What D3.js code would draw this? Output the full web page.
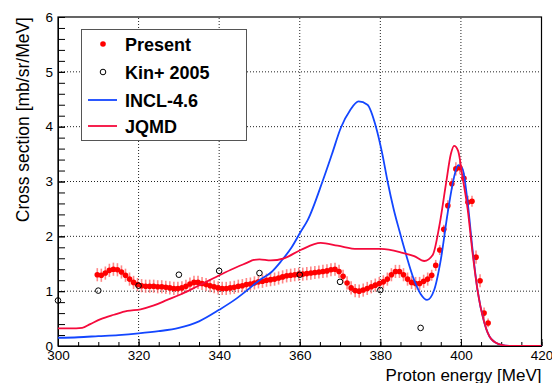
<!DOCTYPE html>
<html>
<head>
<meta charset="utf-8">
<script src="https://cdn.jsdelivr.net/npm/d3@7"></script>
<style>
  body { margin: 0; background: #fff; }
  svg { font-family: "Liberation Sans", Arial, Helvetica, sans-serif; display: block; }
</style>
</head>
<body>
<script>
// measured points (energy in MeV, cross section in mb/sr/MeV)
var presentE = [309.75, 310.75, 311.75, 312.75, 313.75, 314.75, 315.75, 316.75, 317.75, 318.75,
  319.75, 320.75, 321.75, 322.75, 323.75, 324.75, 325.75, 326.75, 327.75, 328.75,
  329.75, 330.75, 331.75, 332.75, 333.75, 334.75, 335.75, 336.75, 337.75, 338.75,
  339.75, 340.75, 341.75, 342.75, 343.75, 344.75, 345.75, 346.75, 347.75, 348.75,
  349.75, 350.75, 351.75, 352.75, 353.75, 354.75, 355.75, 356.75, 357.75, 358.75,
  359.75, 360.75, 361.75, 362.75, 363.75, 364.75, 365.75, 366.75, 367.75, 368.75,
  369.75, 370.75, 371.75, 372.75, 373.75, 374.75, 375.75, 376.75, 377.75, 378.75,
  379.75, 380.75, 381.75, 382.75, 383.75, 384.75, 385.75, 386.75, 387.75, 388.75,
  389.75, 390.75, 391.75, 392.75, 393.75, 394.75, 395.75, 396.75, 397.75, 398.75,
  399.75, 400.75, 401.75, 402.75, 403.75, 404.75, 405.75, 406.75];
var presentY = [1.30, 1.29, 1.33, 1.38, 1.40, 1.39, 1.35, 1.29, 1.22, 1.16,
  1.12, 1.10, 1.09, 1.09, 1.09, 1.08, 1.08, 1.07, 1.06, 1.05,
  1.05, 1.06, 1.09, 1.13, 1.16, 1.16, 1.14, 1.12, 1.10, 1.08,
  1.06, 1.05, 1.05, 1.06, 1.07, 1.09, 1.10, 1.12, 1.13, 1.15,
  1.17, 1.18, 1.20, 1.21, 1.22, 1.24, 1.26, 1.28, 1.29, 1.30,
  1.31, 1.31, 1.32, 1.33, 1.34, 1.35, 1.36, 1.37, 1.39, 1.40,
  1.36, 1.27, 1.15, 1.06, 1.01, 1.00, 1.02, 1.05, 1.08, 1.11,
  1.14, 1.17, 1.22, 1.30, 1.36, 1.36, 1.30, 1.22, 1.16, 1.14,
  1.14, 1.18, 1.22, 1.29, 1.47, 1.75, 2.13, 2.56, 2.96, 3.23,
  3.25, 3.06, 2.62, 2.64, 1.62, 1.19, 0.60, 0.42];
var presentErr = [0.12, 0.12, 0.12, 0.12, 0.12, 0.12, 0.12, 0.12, 0.12, 0.12,
  0.12, 0.12, 0.12, 0.12, 0.12, 0.12, 0.12, 0.12, 0.12, 0.12,
  0.12, 0.12, 0.12, 0.12, 0.12, 0.12, 0.12, 0.12, 0.12, 0.12,
  0.12, 0.12, 0.12, 0.12, 0.12, 0.12, 0.12, 0.12, 0.12, 0.12,
  0.12, 0.12, 0.12, 0.12, 0.12, 0.12, 0.12, 0.12, 0.12, 0.12,
  0.12, 0.12, 0.12, 0.12, 0.12, 0.12, 0.12, 0.12, 0.12, 0.12,
  0.12, 0.12, 0.12, 0.12, 0.12, 0.12, 0.12, 0.12, 0.12, 0.12,
  0.12, 0.12, 0.12, 0.12, 0.12, 0.12, 0.12, 0.12, 0.12, 0.12,
  0.12, 0.12, 0.12, 0.10, 0.10, 0.09, 0.08, 0.10, 0.10, 0.12,
  0.12, 0.10, 0.12, 0.10, 0.12, 0.12, 0.10, 0.08];

var kinE = [300, 310, 320, 330, 340, 350, 360, 370, 380, 390];
var kinY = [0.83, 1.01, 1.10, 1.30, 1.37, 1.33, 1.30, 1.17, 1.02, 0.33];

// model curves
var inclE = [300, 305, 310, 315, 320, 325, 330, 335, 340, 344, 347, 350, 353, 355.3, 358,
  360.2, 362, 365.6, 368, 370.2, 372.5, 374.6, 376.8, 378.9, 380.5, 381.8, 383.3, 384.7,
  386.3, 388.4, 390, 391.6, 393.4, 395, 396.7, 398.3, 399.3, 400.4, 401.7, 402.9, 404.1,
  405.8, 407.5, 410, 412, 420];
var inclY = [0.15, 0.16, 0.18, 0.20, 0.23, 0.27, 0.33, 0.45, 0.66, 0.85, 1.02, 1.20, 1.35, 1.54, 1.80,
  2.08, 2.30, 2.99, 3.50, 3.98, 4.30, 4.46, 4.40, 4.00, 3.50, 3.00, 2.50, 2.11,
  1.69, 1.20, 0.95, 0.84, 1.03, 1.57, 2.42, 3.08, 3.30, 3.23, 2.60, 1.75, 1.03,
  0.43, 0.13, 0.02, 0, 0];

var jqmdE = [300, 303, 306, 308, 310.6, 313.9, 317.2, 320.5, 323.8, 327.1, 330.4, 334.6, 338.7,
  342.9, 347, 348.6, 350, 352.8, 356.1, 360.2, 365.2, 369.4, 374.3, 380.1, 385.5, 388.4,
  390.9, 393, 394.6, 396.3, 397.5, 398.3, 399.3, 400.4, 401.7, 402.9, 404.1, 405.8, 407.5,
  410, 412, 420];
var jqmdY = [0.32, 0.32, 0.33, 0.40, 0.49, 0.57, 0.64, 0.67, 0.74, 0.84, 0.94, 1.09, 1.24,
  1.39, 1.52, 1.57, 1.58, 1.56, 1.60, 1.75, 1.88, 1.83, 1.77, 1.77, 1.70, 1.64,
  1.55, 1.66, 2.17, 2.96, 3.50, 3.65, 3.56, 3.08, 2.48, 1.69, 1.03, 0.43, 0.13,
  0.02, 0, 0];

var legendLabels = ["Present", "Kin+ 2005", "INCL-4.6", "JQMD"];

var W = 552, H = 383;
var x = d3.scaleLinear().domain([300, 420]).range([58, 541.5]);
var y = d3.scaleLinear().domain([0, 6]).range([346, 17]);

var svg = d3.select("body").append("svg")
    .attr("width", W)
    .attr("height", H);

svg.append("rect").attr("width", W).attr("height", H).attr("fill", "#fff");

svg.append("clipPath").attr("id", "frame")
  .append("rect")
    .attr("x", x(300)).attr("y", y(6))
    .attr("width", x(420) - x(300)).attr("height", y(0) - y(6));

// grid
var grid = svg.append("g").attr("class", "grid");
grid.selectAll("line.gx")
  .data([320, 340, 360, 380, 400])
  .enter().append("line")
    .attr("x1", d => x(d)).attr("x2", d => x(d))
    .attr("y1", y(0)).attr("y2", y(6))
    .attr("stroke", "#222").attr("stroke-dasharray", "1,2");
grid.selectAll("line.gy")
  .data([1, 2, 3, 4, 5])
  .enter().append("line")
    .attr("y1", d => y(d)).attr("y2", d => y(d))
    .attr("x1", x(300)).attr("x2", x(420))
    .attr("stroke", "#222").attr("stroke-dasharray", "1,2");

// axes, ticks point into the frame
svg.append("g")
  .attr("transform", "translate(0," + y(0) + ")")
  .call(d3.axisBottom(x).tickValues(d3.range(300, 421, 5)).tickSize(-4).tickFormat("").tickSizeOuter(0))
  .call(g => g.select(".domain").remove());
var xAxis = svg.append("g")
  .attr("transform", "translate(0," + y(0) + ")")
  .call(d3.axisBottom(x).tickValues([300, 320, 340, 360, 380, 400, 420]).tickSize(-7).tickPadding(4).tickSizeOuter(0));
xAxis.selectAll("text").attr("font-size", "13.5px").attr("fill", "#000").attr("font-family", null);

svg.append("g")
  .attr("transform", "translate(" + x(300) + ",0)")
  .call(d3.axisLeft(y).tickValues(d3.range(0, 6.01, 0.2)).tickSize(-7).tickFormat("").tickSizeOuter(0))
  .call(g => g.select(".domain").remove());
var yAxis = svg.append("g")
  .attr("transform", "translate(" + x(300) + ",0)")
  .call(d3.axisLeft(y).tickValues([0, 1, 2, 3, 4, 5, 6]).tickSize(-7).tickPadding(5).tickSizeOuter(0).tickFormat(d3.format("d")));
yAxis.selectAll("text").attr("font-size", "13.5px").attr("fill", "#000").attr("font-family", null);

// frame
svg.append("rect")
  .attr("x", x(300)).attr("y", y(6))
  .attr("width", x(420) - x(300)).attr("height", y(0) - y(6))
  .attr("fill", "none").attr("stroke", "#000").attr("stroke-width", 1.2);

// axis titles
svg.append("text")
  .attr("x", x(420)).attr("y", 381)
  .attr("text-anchor", "end")
  .attr("font-size", "17px")
  .text("Proton energy [MeV]");
svg.append("text")
  .attr("transform", "translate(29," + y(6) + ") rotate(-90)")
  .attr("text-anchor", "end")
  .attr("font-size", "17.5px")
  .text("Cross section [mb/sr/MeV]");

var plot = svg.append("g").attr("clip-path", "url(#frame)");

// present data: error bars then markers
var present = presentE.map((e, i) => ({e: e, v: presentY[i], err: presentErr[i]}));
plot.selectAll("line.err")
  .data(present)
  .enter().append("line")
    .attr("class", "err")
    .attr("x1", d => x(d.e)).attr("x2", d => x(d.e))
    .attr("y1", d => y(d.v - d.err)).attr("y2", d => y(d.v + d.err))
    .attr("stroke", "#ff6060").attr("stroke-width", 1.6).attr("opacity", 0.75);
plot.selectAll("circle.pres")
  .data(present)
  .enter().append("circle")
    .attr("class", "pres")
    .attr("cx", d => x(d.e)).attr("cy", d => y(d.v))
    .attr("r", 2.8).attr("fill", "#ff0000");

// Kin+ 2005 (markers are not clipped, the one at 300 sits on the frame)
svg.append("g").selectAll("circle.kin")
  .data(kinE.map((e, i) => ({e: e, v: kinY[i]})))
  .enter().append("circle")
    .attr("class", "kin")
    .attr("cx", d => x(d.e)).attr("cy", d => y(d.v))
    .attr("r", 2.8).attr("fill", "none").attr("stroke", "#000").attr("stroke-width", 1);

// model lines
var line = d3.line().x(d => x(d[0])).y(d => y(d[1])).curve(d3.curveMonotoneX);
plot.append("path")
  .datum(inclE.map((e, i) => [e, inclY[i]]))
  .attr("d", line)
  .attr("fill", "none").attr("stroke", "#1346ff").attr("stroke-width", 1.8);
plot.append("path")
  .datum(jqmdE.map((e, i) => [e, jqmdY[i]]))
  .attr("d", line)
  .attr("fill", "none").attr("stroke", "#f50a3c").attr("stroke-width", 1.8);

// legend
var leg = svg.append("g");
leg.append("rect")
  .attr("x", 81.5).attr("y", 29.5).attr("width", 165).attr("height", 111)
  .attr("fill", "#fff").attr("stroke", "#555").attr("stroke-width", 1);
var rowY = [44, 72, 100, 126];
leg.append("circle").attr("cx", 103).attr("cy", rowY[0]).attr("r", 2.8).attr("fill", "#ff0000");
leg.append("circle").attr("cx", 103).attr("cy", rowY[1]).attr("r", 2.8)
  .attr("fill", "none").attr("stroke", "#000").attr("stroke-width", 1);
leg.append("line").attr("x1", 88).attr("x2", 117).attr("y1", rowY[2]).attr("y2", rowY[2])
  .attr("stroke", "#1346ff").attr("stroke-width", 1.8);
leg.append("line").attr("x1", 88).attr("x2", 117).attr("y1", rowY[3]).attr("y2", rowY[3])
  .attr("stroke", "#f50a3c").attr("stroke-width", 1.8);
leg.selectAll("text.lab")
  .data(legendLabels)
  .enter().append("text")
    .attr("x", 125).attr("y", (d, i) => rowY[i] + 6.5)
    .attr("font-size", "18px").attr("font-weight", "bold")
    .text(d => d);
</script>
</body>
</html>
